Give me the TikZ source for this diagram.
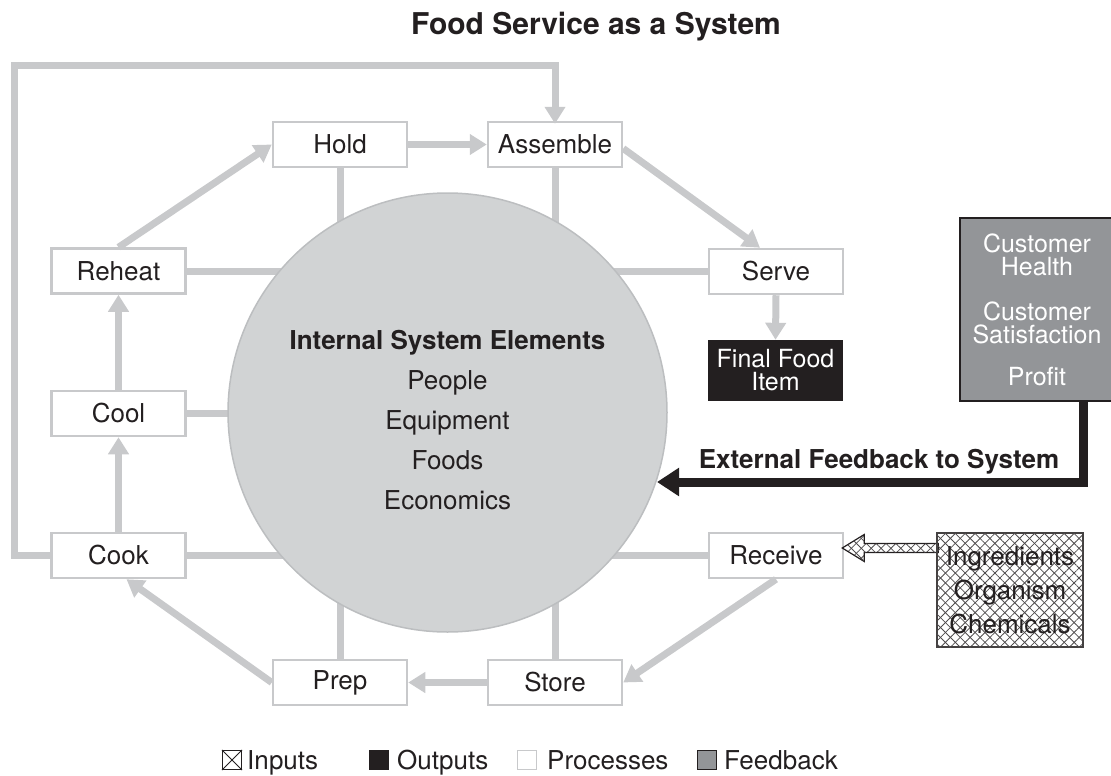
\documentclass[tikz,border=0pt]{standalone}
\usepackage{fontspec}
\setmainfont{TeX Gyre Heros}
\usetikzlibrary{arrows.meta,patterns.meta,calc}
\definecolor{lg}{HTML}{C8C9CB}
\definecolor{cf}{HTML}{D1D3D4}
\definecolor{cb}{HTML}{BCBEC0}
\definecolor{fbg}{HTML}{939598}
\definecolor{ink}{HTML}{231F20}
\begin{document}
\begin{tikzpicture}[x=1pt,y=-1pt,
  every node/.style={text=ink, font=\fontsize{26}{28}\selectfont, inner sep=0pt},
  proc/.style={draw=lg, line width=2.5pt, fill=white, minimum width=134pt, minimum height=45pt},
  conn/.style={draw=lg, line width=7pt},
  flow/.style={draw=lg, line width=7pt, -{Triangle[width=20pt,length=17pt]}},
  hatch/.style={pattern={Lines[angle=45,distance=7pt,line width=0.8pt]}, pattern color=ink!80,
    postaction={pattern={Lines[angle=-45,distance=7pt,line width=0.8pt]}, pattern color=ink!80}},
  legsq/.style={minimum size=19pt, line width=1.2pt},
  legtxt/.style={anchor=base west},
]
\useasboundingbox (0,0) rectangle (1111,776);

% title
\node[font=\bfseries\fontsize{30}{32}\selectfont] (title) at (596,27) {Food Service as a System};

% process boxes
\node[proc] (hold) at (340,144.5) {Hold};
\node[proc] (assemble) at (555,144.5) {Assemble};
\node[proc] (reheat) at (118.5,271) {Reheat};
\node[proc] (serve) at (776,271.5) {Serve};
\node[proc] (cool) at (118.5,413.5) {Cool};
\node[proc] (cook) at (118.5,555.5) {Cook};
\node[proc] (receive) at (776,555.5) {Receive};
\node[proc] (prep) at (340,682.5) {Prep};
\node[proc] (store) at (555,682.5) {Store};

% spokes to the circle
\coordinate (cc) at (447.5,412.5);
\draw[conn] (hold.south) -- (hold.south |- cc);
\draw[conn] (assemble.south) -- (assemble.south |- cc);
\draw[conn] (prep.north) -- (prep.north |- cc);
\draw[conn] (store.north) -- (store.north |- cc);
\draw[conn] (reheat.east) -- (reheat.east -| cc);
\draw[conn] (cool.east) -- (cool.east -| cc);
\draw[conn] (cook.east) -- (cook.east -| cc);
\draw[conn] (serve.west) -- (serve.west -| cc);
\draw[conn] (receive.west) -- (receive.west -| cc);

% circle
\node[circle, fill=cf, draw=cb, line width=1.5pt, minimum size=439pt] (circ) at (cc) {};
\node[align=center, font=\fontsize{26}{40}\selectfont] (elements) at (447.5,420)
  {{\bfseries Internal System Elements}\\People\\Equipment\\Foods\\Economics};

% flow arrows
\draw[flow] (hold.east) -- (assemble.west);
\draw[flow] ([yshift=-4pt]assemble.east) -- ([xshift=-16pt]serve.north);
\draw[flow] (receive.south) -- (store.east);
\draw[flow] (store.west) -- (prep.west -| prep.east);
\draw[flow] (prep.west) -- ([xshift=8pt]cook.south);
\draw[flow] (cook.north) -- (cool.south);
\draw[flow] (cool.north) -- (reheat.south);
\draw[flow] (reheat.north) -- (hold.west);
\coordinate (lt) at (14,66);
\draw[flow] (cook.west) -| (lt) -| ([yshift=-3pt]assemble.north);

% output
\node[fill=ink, minimum width=135pt, minimum height=61pt, text=white, align=center,
  font=\fontsize{25}{23}\selectfont] (final) at (775.5,370.5) {Final Food\\Item};
\draw[flow] (serve.south) -- (final.north);

% feedback
\node[fill=fbg, draw=ink, line width=2.5pt, minimum width=154pt, minimum height=183pt,
  text=white, align=center, font=\fontsize{25}{23}\selectfont] (fb) at (1037,309.5)
  {Customer\\Health\\[22pt]Customer\\Satisfaction\\[19pt]Profit};
\coordinate (fbb) at (1083,401);
\coordinate (fbtip) at (657,482);
\draw[ink, line width=9pt, -{Triangle[width=27pt,length=22pt]}] (fbb) |- (fbtip);
\node[font=\bfseries\fontsize{26}{28}\selectfont] (extlbl) at (879,462) {External Feedback to System};

% inputs
\coordinate (tip) at ($(receive.east)+(-2,-7.5)$);
\draw[hatch, draw=ink, line width=1.2pt] (tip) -- ++(22,-13.5) -- ++(0,9) -- ++(74,0)
  -- ++(0,9) -- ++(-74,0) -- ++(0,9) -- cycle;
\node[hatch, draw=ink!85, line width=1.5pt, minimum width=146pt, minimum height=114pt,
  align=center, font=\fontsize{26}{34}\selectfont] (inputs) at (1010,590)
  {Ingredients\\Organism\\Chemicals};

% legend
\node[legsq, draw=ink] (lins) at (232,760) {};
\draw[ink, line width=0.8pt] (lins.north west) -- (lins.south east) (lins.north east) -- (lins.south west);
\node[legtxt] (lint) at (247,769) {Inputs};
\node[legsq, fill=ink, draw=ink] (lout) at (379,760) {};
\node[legtxt] (loutt) at (397,769) {Outputs};
\node[legsq, draw=lg, fill=white] (lproc) at (527,760) {};
\node[legtxt] (lproct) at (547,769) {Processes};
\node[legsq, fill=fbg, draw=ink] (lfb) at (707,760) {};
\node[legtxt] (lfbt) at (724,769) {Feedback};
\end{tikzpicture}
\end{document}
